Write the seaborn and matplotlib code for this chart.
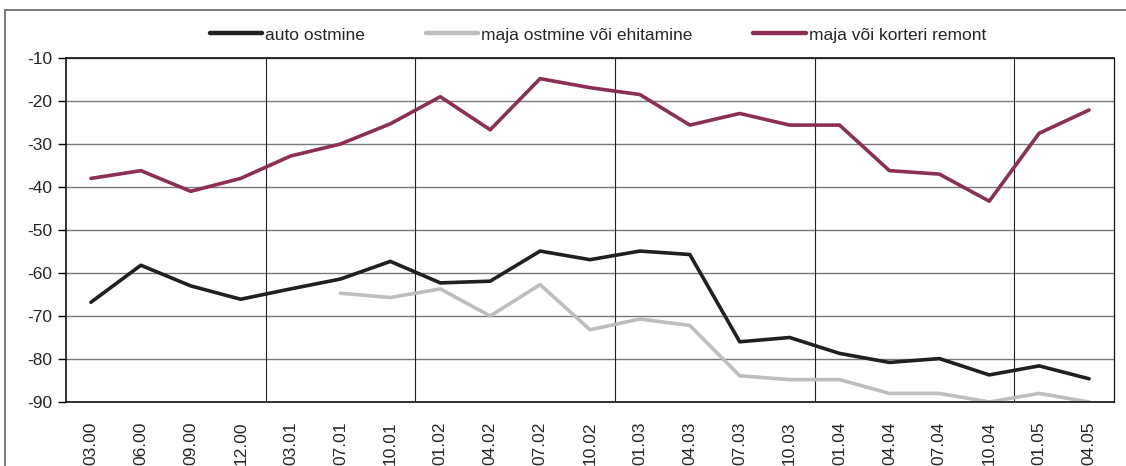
import pandas as pd
import numpy as np
import matplotlib
matplotlib.use("Agg")
import matplotlib.pyplot as plt
from matplotlib.patches import Rectangle
import seaborn as sns

# -----------------------------
# Data
# -----------------------------
periods = ["03.00", "06.00", "09.00", "12.00", "03.01", "07.01", "10.01",
           "01.02", "04.02", "07.02", "10.02", "01.03", "04.03", "07.03",
           "10.03", "01.04", "04.04", "07.04", "10.04", "01.05", "04.05"]

auto_ostmine = [-66.8, -58.2, -63.0, -66.1, -63.7, -61.4, -57.3,
                -62.3, -61.9, -54.9, -56.9, -54.9, -55.7, -76.0,
                -75.0, -78.7, -80.8, -79.9, -83.7, -81.6, -84.6]

maja_ostmine = [np.nan, np.nan, np.nan, np.nan, np.nan, -64.7, -65.7,
                -63.7, -70.0, -62.7, -73.2, -70.7, -72.2, -83.9,
                -84.8, -84.8, -88.0, -88.0, -90.0, -88.0, -90.0]

remont = [-38.0, -36.2, -41.0, -38.0, -32.8, -30.0, -25.3,
          -19.0, -26.7, -14.8, -16.9, -18.5, -25.6, -22.9,
          -25.6, -25.6, -36.2, -37.0, -43.3, -27.5, -22.1]

series_names = ["auto ostmine", "maja ostmine või ehitamine", "maja või korteri remont"]
series_colors = ["#231F20", "#BEBEC0", "#8C2F55"]

y_ticks = [-10, -20, -30, -40, -50, -60, -70, -80, -90]

# -----------------------------
# Build long table
# -----------------------------
frames = []
for name, values in zip(series_names, [auto_ostmine, maja_ostmine, remont]):
    frames.append(pd.DataFrame({
        "pos": range(len(periods)),
        "value": values,
        "series": name
    }))
df = pd.concat(frames).dropna()

# -----------------------------
# Plot
# -----------------------------
sns.set_style("white")
plt.rcParams["font.family"] = ["Liberation Sans", "DejaVu Sans"]

fig = plt.figure(figsize=(11.26, 4.66), dpi=100)
ax = fig.add_axes([66 / 1126, 1 - 402 / 466, (1114 - 66) / 1126, (402 - 58) / 466])

sns.lineplot(
    data=df,
    x="pos",
    y="value",
    hue="series",
    hue_order=series_names,
    palette=series_colors,
    linewidth=2.6,
    legend=False,
    ax=ax
)

ax.set_xlim(-0.5, len(periods) - 0.5)
ax.set_ylim(-90, -10)

# horizontal grid
ax.set_yticks(y_ticks)
ax.set_yticklabels([str(v) for v in y_ticks], fontsize=12.5)
for v in y_ticks:
    ax.axhline(v, color="#7a7a7a", linewidth=1.0, zorder=0)

# x labels at categories, ticks + vertical lines at year changes
ax.set_xticks(range(len(periods)))
ax.set_xticklabels(periods, rotation=90, fontsize=12.5)
ax.tick_params(axis="x", which="major", length=0, pad=14)

years = [p.split(".")[1] for p in periods]
boundaries = [i - 0.5 for i in range(1, len(periods)) if years[i] != years[i - 1]]
ax.set_xticks([-0.5] + boundaries + [len(periods) - 0.5], minor=True)
ax.tick_params(axis="x", which="minor", length=6, width=1, color="black", direction="out")
for b in boundaries:
    ax.axvline(b, color="#222222", linewidth=0.8, zorder=0)

ax.tick_params(axis="y", which="major", length=6, width=1, color="black",
               direction="out", left=True, pad=4)

for side in ["left", "right", "top", "bottom"]:
    ax.spines[side].set_visible(True)
    ax.spines[side].set_color("#111111")
    ax.spines[side].set_linewidth(1.2)
ax.spines["right"].set_linewidth(0.9)

ax.set_xlabel("")
ax.set_ylabel("")

# legend
handles = [plt.Line2D([], [], color=c, linewidth=3.2) for c in series_colors]
fig.legend(
    handles,
    series_names,
    loc="center",
    bbox_to_anchor=(0.531, 1 - 35 / 466),
    ncol=3,
    frameon=False,
    fontsize=12.5,
    handlelength=3.0,
    handletextpad=0.2,
    columnspacing=3.5
)

# outer frame
fig.patches.append(Rectangle(
    (5 / 1126, -0.1), 1.2, 1 - 10 / 466 + 0.1,
    transform=fig.transFigure, fill=False,
    edgecolor="#6e6e6e", linewidth=1.3
))

fig.savefig("out.png", dpi=100)
plt.close(fig)
